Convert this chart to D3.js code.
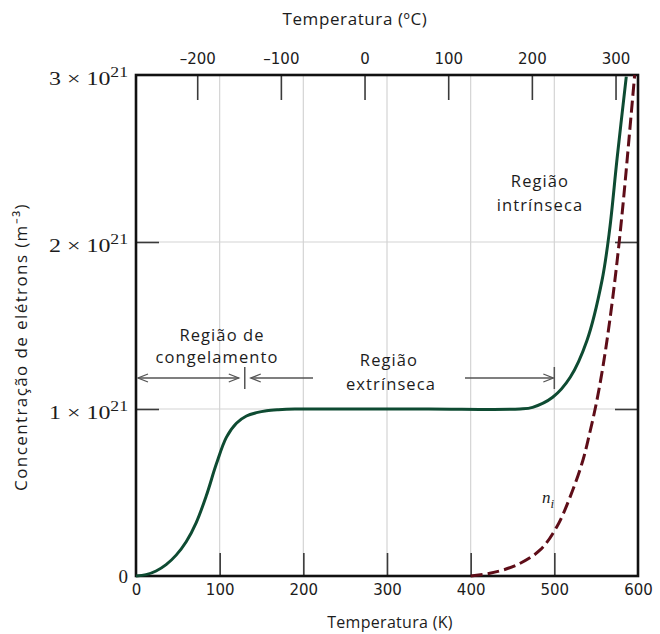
<!DOCTYPE html>
<html><head><meta charset="utf-8">
<script src="https://cdn.jsdelivr.net/npm/d3@7"></script>
<style>
body{margin:0;background:#fff;}
svg{display:block;}
</style></head>
<body>
<svg id="chart" width="660" height="634"></svg>
<script>
// ---- data (n in units of 10^21 m^-3, T in K) ----
const tempK   = [0, 12, 24, 36, 48, 60, 72, 84, 96, 108, 120, 132, 144, 156, 170, 190, 250, 350, 459, 474, 498, 519, 539, 557, 566, 575, 586];
const nTotal  = [0, 0.008, 0.03, 0.068, 0.125, 0.205, 0.32, 0.48, 0.67, 0.83, 0.915, 0.958, 0.978, 0.99, 0.996, 1.0, 1.0, 1.0, 1.0, 1.01, 1.07, 1.19, 1.41, 1.77, 2.07, 2.5, 2.99];
const tempKi  = [400, 423, 455, 483, 503, 519, 534, 542, 550, 558, 566, 574, 582, 590, 596];
const nIntr   = [0, 0.016, 0.066, 0.156, 0.295, 0.475, 0.69, 0.85, 1.03, 1.25, 1.52, 1.84, 2.22, 2.66, 3.0];
const kTicks  = [0, 100, 200, 300, 400, 500, 600];
const cTicks  = [-200, -100, 0, 100, 200, 300];
const nTicks  = [0, 1, 2, 3];
const freezeEnd = 130;   // K
const extrinsicEnd = 500; // K
const xTitle = "Temperatura (K)";
const xTopTitle = "Temperatura (ºC)";
const yTitle = "Concentração de elétrons (m⁻³)";

const svg = d3.select("#chart");
const L = 136, R = 638, T = 75, B = 576;
const x = d3.scaleLinear().domain([0, 600]).range([L, R]);
const xC = d3.scaleLinear().domain([-273.15, 326.85]).range([L, R]);
const y = d3.scaleLinear().domain([0, 3]).range([B, T]);

const sans = "'Open Sans', sans-serif";
const tickFont = "'DejaVu Sans', sans-serif";
const ink = "#1c1c1c";

// gridlines
const grid = svg.append("g").attr("stroke", "#d4d4d4").attr("stroke-width", 1.2);
grid.selectAll(".gv").data(kTicks.filter(d => d > 0 && d < 600)).join("line")
  .attr("x1", d => x(d)).attr("x2", d => x(d)).attr("y1", T).attr("y2", B);
grid.selectAll(".gh").data(nTicks.filter(d => d > 0 && d < 3)).join("line")
  .attr("y1", d => y(d)).attr("y2", d => y(d)).attr("x1", L).attr("x2", R);

// axes (inward ticks)
const tickLen = 23;
const axB = svg.append("g").attr("transform", `translate(0,${B})`)
  .call(d3.axisBottom(x).tickValues(kTicks).tickSize(-tickLen).tickPadding(8).tickFormat(d3.format("d")));
const axT = svg.append("g").attr("transform", `translate(0,${T})`)
  .call(d3.axisTop(xC).tickValues(cTicks).tickSize(-25).tickPadding(11).tickFormat(d => d < 0 ? "–" + Math.abs(d) : d));
const axL = svg.append("g").attr("transform", `translate(${L},0)`)
  .call(d3.axisLeft(y).tickValues([1, 2]).tickSize(-tickLen).tickFormat(""));
const axR = svg.append("g").attr("transform", `translate(${R},0)`)
  .call(d3.axisRight(y).tickValues([1, 2]).tickSize(-tickLen).tickFormat(""));
[axB, axT, axL, axR].forEach(a => {
  a.select(".domain").remove();
  a.selectAll(".tick line").attr("stroke", "#3a3a3a").attr("stroke-width", 1.6);
  a.selectAll("text").attr("font-family", tickFont).attr("font-size", 15).attr("fill", ink);
});
axB.selectAll(".tick").filter(d => d === 0 || d === 600).select("line").remove();

// y tick labels (serif, with superscript)
const yl = svg.append("g");
nTicks.forEach(v => {
  const t = yl.append("text").attr("x", 128).attr("y", y(v) + (v === 0 ? 7 : 10))
    .attr("text-anchor", "end").attr("font-family", "'Liberation Serif', serif")
    .attr("font-size", 19).attr("fill", ink);
  if (v === 0) { t.text("0"); }
  else {
    t.attr("textLength", 79).attr("lengthAdjust", "spacingAndGlyphs");
    t.append("tspan").text(v + " × 10");
    t.append("tspan").attr("dy", -8).attr("font-size", 14).text("21");
  }
});

// frame
svg.append("rect").attr("x", L).attr("y", T).attr("width", R - L).attr("height", B - T)
  .attr("fill", "none").attr("stroke", "#111").attr("stroke-width", 2.6);

// curves
const line = d3.line().x(d => x(d[0])).y(d => y(d[1])).curve(d3.curveCatmullRom.alpha(0.5));
svg.append("path").datum(tempK.map((t, i) => [t, nTotal[i]]))
  .attr("d", line).attr("fill", "none").attr("stroke", "#0e4b32").attr("stroke-width", 3);
svg.append("path").datum(tempKi.map((t, i) => [t, nIntr[i]]))
  .attr("d", line).attr("fill", "none").attr("stroke", "#5e0d18").attr("stroke-width", 3)
  .attr("stroke-dasharray", "12,5");

// titles
svg.append("text").attr("x", 390).attr("y", 628).attr("text-anchor", "middle")
  .attr("font-family", sans).attr("font-size", 16).attr("letter-spacing", 0.3).attr("fill", ink).text(xTitle);
svg.append("text").attr("x", 355).attr("y", 25).attr("text-anchor", "middle")
  .attr("font-family", sans).attr("font-size", 17).attr("letter-spacing", 0.6).attr("fill", ink).text(xTopTitle);
svg.append("text").attr("transform", "translate(27,347) rotate(-90)").attr("text-anchor", "middle")
  .attr("font-family", sans).attr("font-size", 17).attr("letter-spacing", 1.4).attr("fill", ink).text(yTitle);

// region annotations
const ann = svg.append("g").attr("font-family", sans).attr("font-size", 16.5).attr("letter-spacing", 1.1)
  .attr("fill", ink).attr("text-anchor", "middle");
[["Região de", 222, 341], ["congelamento", 217, 363], ["Região", 389, 366], ["extrínseca", 391, 390],
 ["Região", 540, 187], ["intrínseca", 540, 211]].forEach(([s, xx, yy]) =>
  ann.append("text").attr("x", xx).attr("y", yy).text(s));

// arrows
const ay = 378;
const ag = svg.append("g").attr("stroke", "#555").attr("stroke-width", 1.3).attr("fill", "none");
function seg(x1, x2) { ag.append("line").attr("x1", x1).attr("x2", x2).attr("y1", ay).attr("y2", ay); }
function head(xt, dir) { ag.append("path").attr("d", `M${xt - dir * 10},${ay - 4}L${xt},${ay}L${xt - dir * 10},${ay + 4}`); }
function bar(xb) { ag.append("line").attr("x1", xb).attr("x2", xb).attr("y1", ay - 11).attr("y2", ay + 11).attr("stroke-width", 1.5); }
seg(x(0) + 2, x(freezeEnd) - 6); head(x(0) + 2, -1); head(x(freezeEnd) - 6, 1);
bar(x(freezeEnd));
seg(x(freezeEnd) + 6, 313); head(x(freezeEnd) + 6, -1);
seg(465, x(extrinsicEnd) - 1); head(x(extrinsicEnd) - 1, 1);
bar(x(extrinsicEnd));

// n_i label
const ni = svg.append("text").attr("x", 542).attr("y", 503).attr("font-family", "'Liberation Serif', serif")
  .attr("font-style", "italic").attr("font-size", 17).attr("fill", ink);
ni.append("tspan").text("n");
ni.append("tspan").attr("dy", 5).attr("font-size", 13).text("i");
</script>
</body></html>
